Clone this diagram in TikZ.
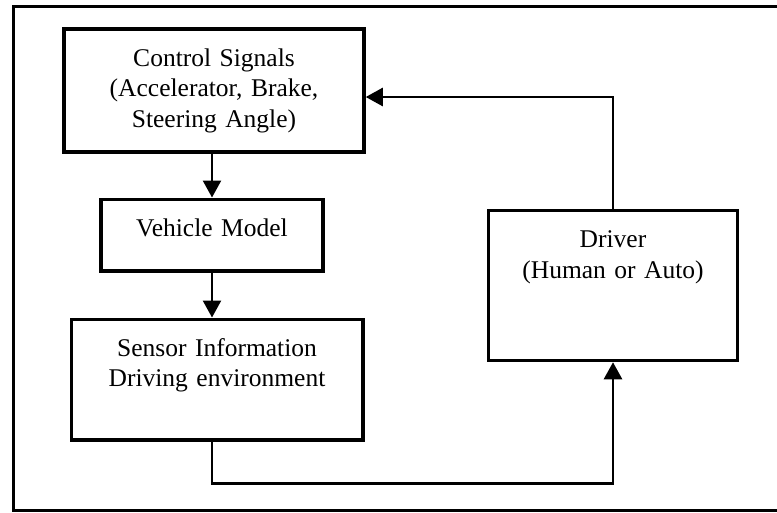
\documentclass[tikz,border=0pt]{standalone}
\usepackage{fontspec}
\setmainfont{Liberation Serif}
\usetikzlibrary{arrows.meta}

\tikzset{box/.style={draw,line width=3.5pt,inner sep=0pt,align=center,text height=37pt,
	font=\fontsize{25.5pt}{30.5pt}\selectfont}}

\begin{document}
\begin{tikzpicture}[->,>={Triangle[length=17pt,width=18pt]},x=1pt,y=-1pt,node distance=144.5pt,line width=2.5pt]

\useasboundingbox(0,0)rectangle(777,512);
\draw[-,line width=3pt](777,6.5)--(13,6.5)--(13,510)--(777,510);

\node[box,text width=300pt,text depth=86pt](cs) at (214,90.5){Control Signals\\(Accelerator, Brake,\\Steering Angle)};
\node[box,text width=222pt,text depth=34.5pt](vm)[below of=cs,xshift=-2pt]{Vehicle Model};
\node[box,text width=291.5pt,text depth=83.5pt](sn)[below of=vm,xshift=5pt]{Sensor Information\\Driving environment};
\node[box,text width=249pt,text depth=113pt](dr) at (613,285.5){Driver\\(Human or Auto)};

\path(vm|-cs.south)edge(vm)
	(vm)edge(vm|-sn.north);
\draw(vm|-sn.south)--++(0,42)-|(dr.south);
\draw(dr.north)|-([yshift=-6.5pt]cs.east);

\end{tikzpicture}
\end{document}
